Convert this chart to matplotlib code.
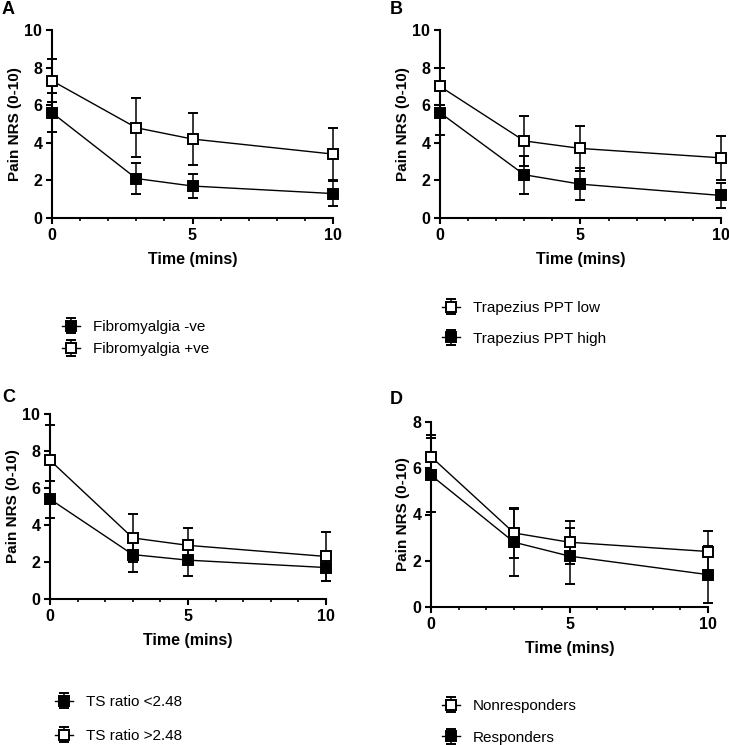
import matplotlib.pyplot as plt
from matplotlib.ticker import MultipleLocator

time_mins = [0, 3, 5, 10]

# Panel A: fibromyalgia status
fibro_neg = [5.6, 2.1, 1.7, 1.3]
fibro_neg_sd = [1.05, 0.8, 0.66, 0.65]
fibro_pos = [7.3, 4.8, 4.2, 3.4]
fibro_pos_sd = [1.15, 1.58, 1.4, 1.4]

# Panel B: trapezius pressure pain threshold
ppt_low = [7.0, 4.1, 3.7, 3.2]
ppt_low_sd = [1.0, 1.35, 1.2, 1.17]
ppt_high = [5.6, 2.3, 1.8, 1.2]
ppt_high_sd = [1.2, 1.0, 0.85, 0.65]

# Panel C: temporal summation ratio
ts_low = [5.4, 2.4, 2.1, 1.7]
ts_low_sd = [1.0, 0.95, 0.85, 0.75]
ts_high = [7.5, 3.3, 2.9, 2.3]
ts_high_sd = [1.9, 1.28, 0.95, 1.33]

# Panel D: responders
nonresp = [6.5, 3.2, 2.8, 2.4]
nonresp_sd = [0.95, 1.1, 0.93, 0.88]
resp = [5.7, 2.8, 2.2, 1.4]
resp_sd = [1.6, 1.45, 1.22, 1.22]

W, H = 729, 745
fig = plt.figure(figsize=(W / 100, H / 100), dpi=100)

bold = {'family': 'Liberation Sans', 'weight': 'bold'}
narrow = ['Liberation Sans Narrow', 'Liberation Sans']


def px_axes(left, top, right, bottom):
    return fig.add_axes([left / W, 1 - bottom / H, (right - left) / W, (bottom - top) / H])


def draw_series(ax, y, sd, filled, label):
    face = 'black' if filled else 'white'
    return ax.errorbar(time_mins, y, yerr=sd, color='black', lw=1.0, elinewidth=1.1,
                       capsize=3.5, capthick=1.1, marker='s', markersize=7,
                       markerfacecolor=face, markeredgecolor='black', markeredgewidth=1.4,
                       clip_on=False, zorder=3, label=label)


def style_axes(ax, ymax):
    ax.set_xlim(0, 10)
    ax.set_ylim(0, ymax)
    for s in ['top', 'right']:
        ax.spines[s].set_visible(False)
    for s in ['left', 'bottom']:
        ax.spines[s].set_linewidth(1.5)
    ax.set_xticks([0, 5, 10])
    ax.xaxis.set_minor_locator(MultipleLocator(1))
    ax.set_yticks(range(0, ymax + 1, 2))
    ax.tick_params(which='major', length=4, width=1.5, pad=3)
    ax.tick_params(which='minor', length=2.5, width=1.2)
    for lab in ax.get_xticklabels() + ax.get_yticklabels():
        lab.set_fontfamily('Liberation Sans')
        lab.set_fontweight('bold')
        lab.set_fontsize(11.5)
    ax.set_ylabel('Pain NRS (0-10)', fontdict=bold, fontsize=11, labelpad=2)
    ax.set_xlabel('Time (mins)', family=narrow, weight='bold', fontsize=11.5, labelpad=7)


panels = [
    # letter, box (l, t, r, b), ymax, series, legend anchor (x, y), label spacing
    ('A', (52, 30, 333, 218), 10,
     [(fibro_neg, fibro_neg_sd, True, 'Fibromyalgia -ve'),
      (fibro_pos, fibro_pos_sd, False, 'Fibromyalgia +ve')],
     (62, 320), 0.55),
    ('B', (440, 30, 721, 218), 10,
     [(ppt_low, ppt_low_sd, False, 'Trapezius PPT low'),
      (ppt_high, ppt_high_sd, True, 'Trapezius PPT high')],
     (442, 301), 1.1),
    ('C', (50, 414, 326, 599), 10,
     [(ts_low, ts_low_sd, True, 'TS ratio <2.48'),
      (ts_high, ts_high_sd, False, 'TS ratio >2.48')],
     (55, 695), 1.3),
    ('D', (431, 422, 708, 607), 8,
     [(nonresp, nonresp_sd, False, 'Nonresponders'),
      (resp, resp_sd, True, 'Responders')],
     (442, 699), 1.15),
]

letter_pos = {'A': (2, 1), 'B': (390, 1), 'C': (2, 389), 'D': (390, 391)}

for letter, box, ymax, series, leg_xy, spacing in panels:
    ax = px_axes(*box)
    handles = []
    for y, sd, filled, label in series:
        handles.append(draw_series(ax, y, sd, filled, label))
    style_axes(ax, ymax)
    fig.legend(handles=handles, loc='upper left',
               bbox_to_anchor=(leg_xy[0] / W, 1 - leg_xy[1] / H),
               frameon=False, borderpad=0, borderaxespad=0,
               handlelength=1.2, handletextpad=0.8, labelspacing=spacing,
               prop={'family': narrow, 'size': 11})
    lx, ly = letter_pos[letter]
    fig.text(lx / W, 1 - ly / H, letter, fontdict=bold, fontsize=13, va='top', ha='left')

fig.savefig('out.png', dpi=100)
